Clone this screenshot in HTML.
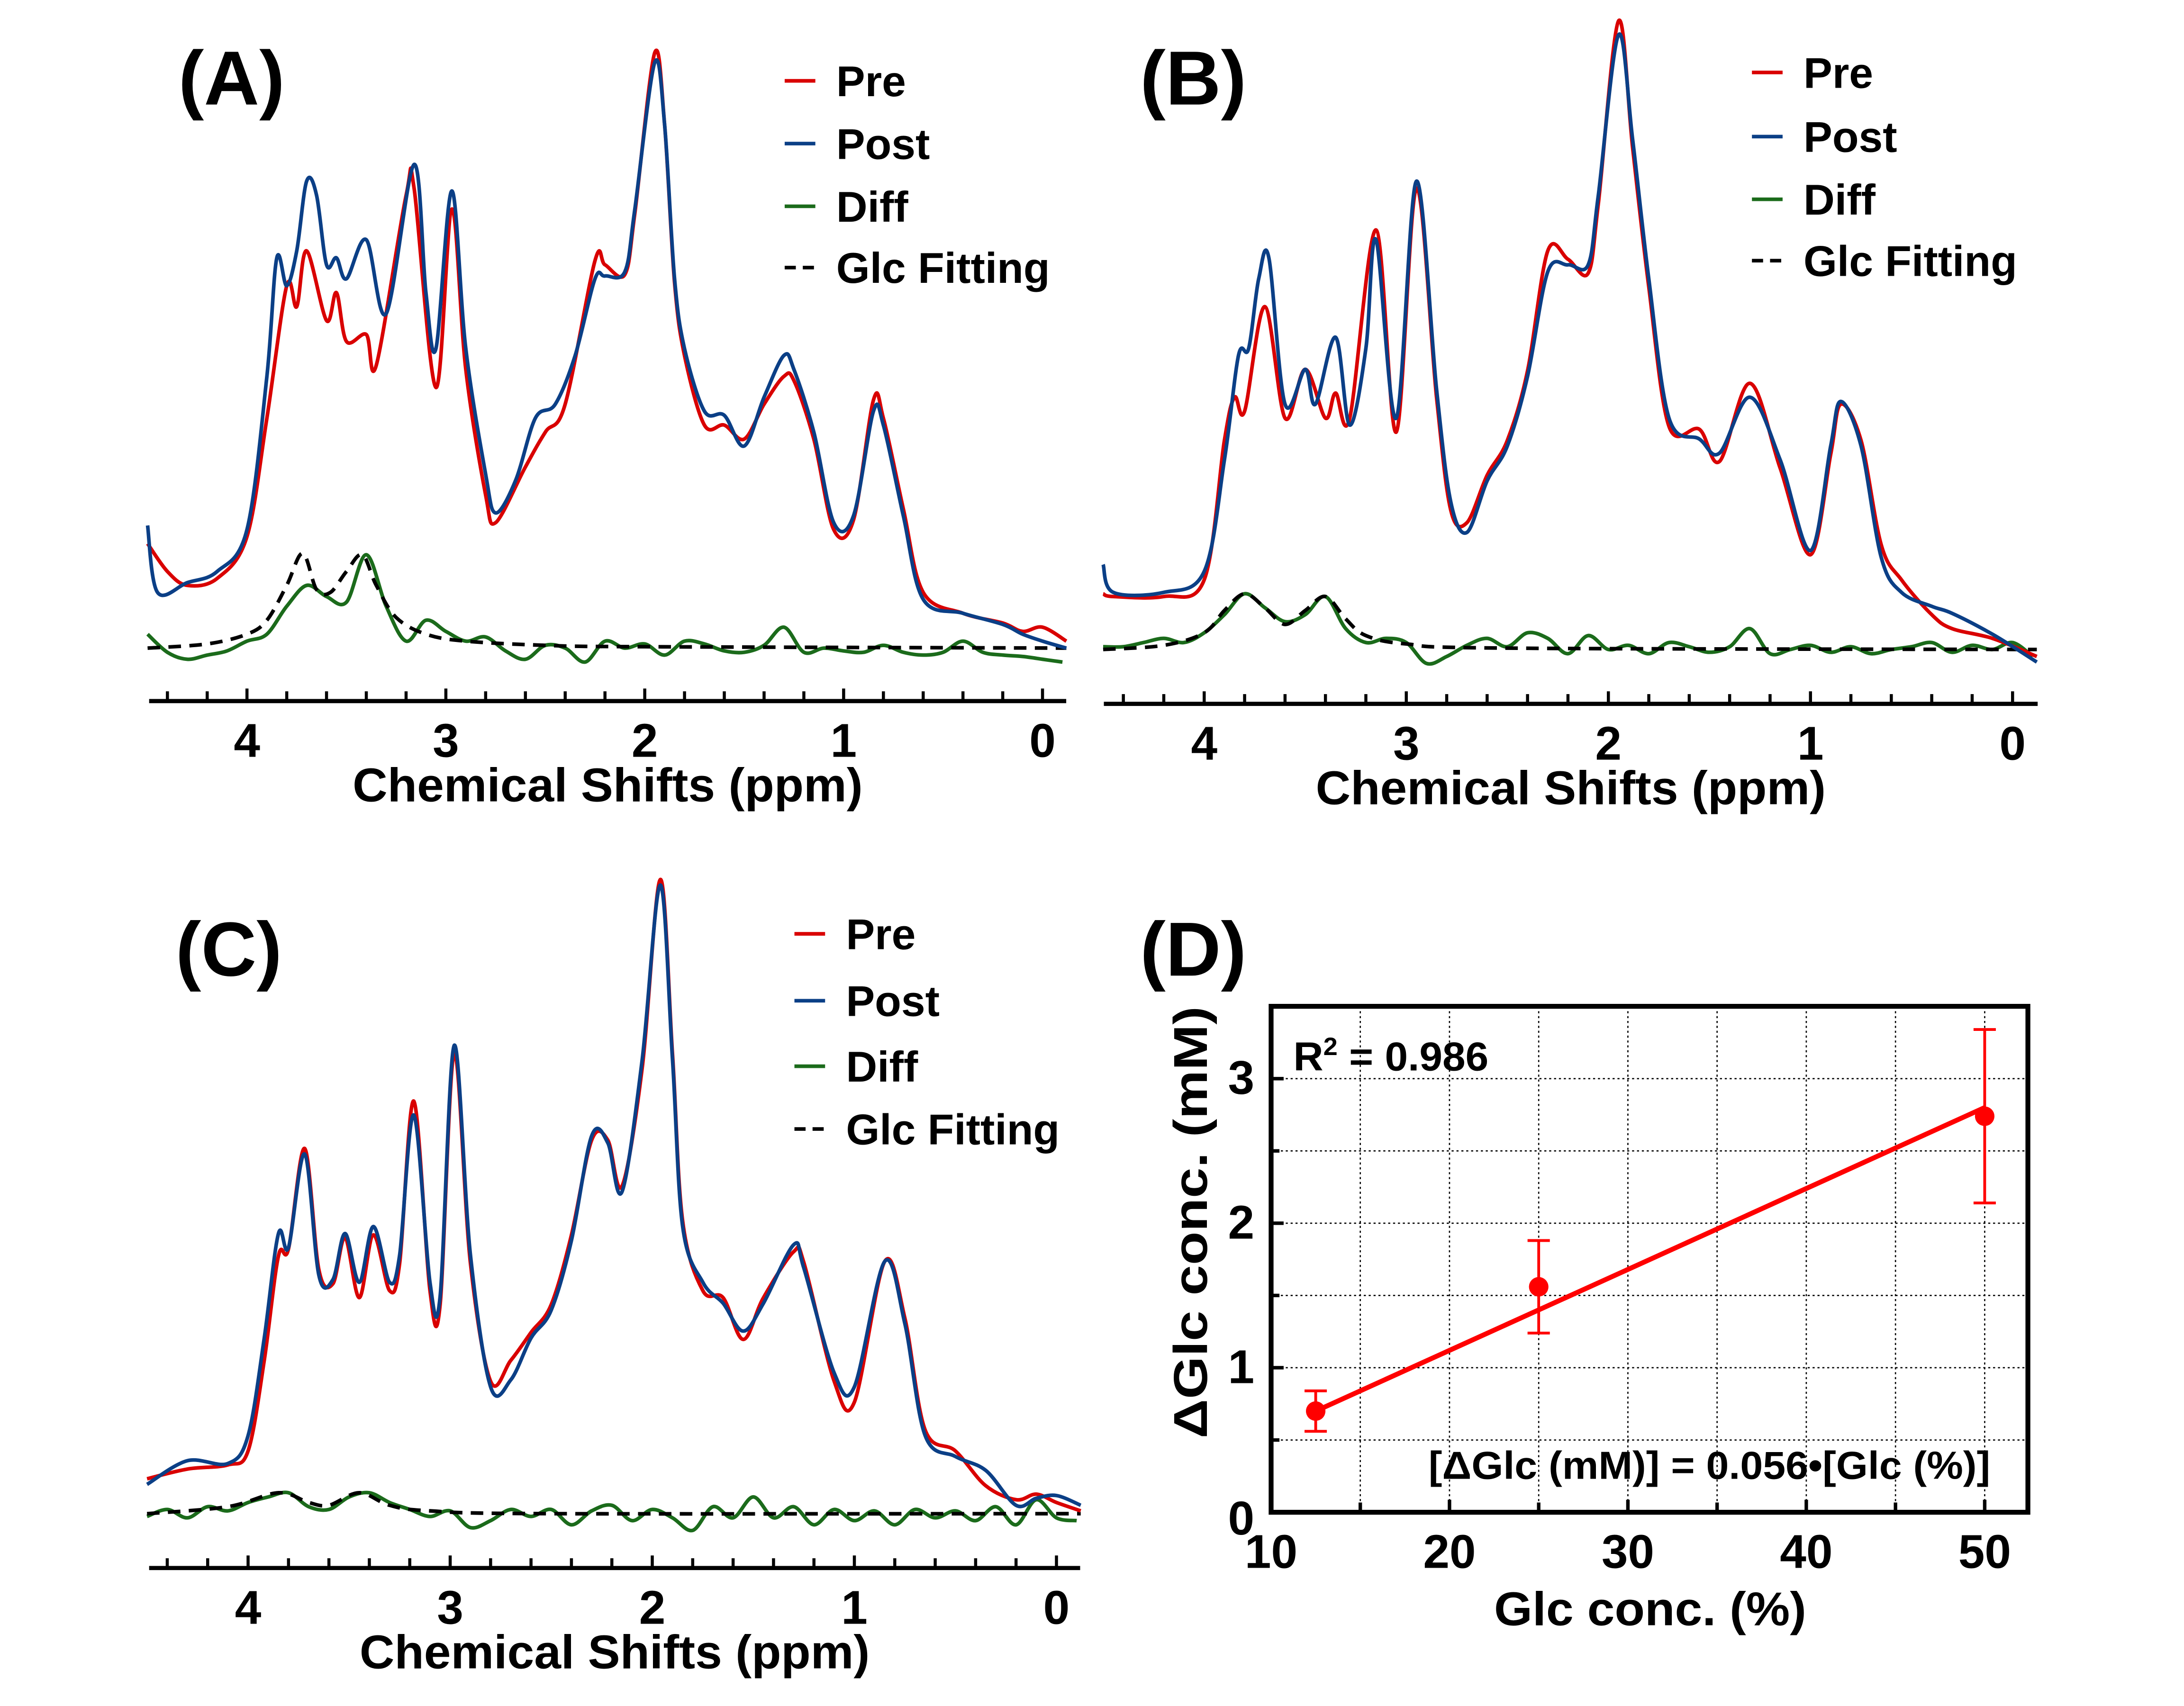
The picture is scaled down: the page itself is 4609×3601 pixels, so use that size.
<!DOCTYPE html>
<html><head><meta charset="utf-8"><style>
html,body{margin:0;padding:0;background:#fff}
svg{display:block}
text{font-family:"Liberation Sans",sans-serif;font-weight:bold;fill:#000}
</style></head><body>
<svg id="fig" xmlns="http://www.w3.org/2000/svg" width="4609" height="3601" viewBox="0 0 1567 1224" preserveAspectRatio="none">
<rect width="1567" height="1224" fill="#fff"/>
</svg>
<script>
// ---------- Data (intensity above baseline vs ppm) ----------
const postA=[[4.5,88],[4.45,40],[4.3,47],[4.15,55],[4.0,85],[3.9,195],[3.85,280],[3.8,260],[3.75,285],[3.7,335],[3.65,325],[3.6,275],[3.55,280],[3.5,265],[3.4,293],[3.3,240],[3.16,347],[3.1,255],[3.05,215],[2.97,328],[2.9,215],[2.8,125],[2.75,97],[2.65,120],[2.55,165],[2.45,175],[2.35,210],[2.25,265],[2.2,267],[2.1,270],[2.05,315],[1.95,420],[1.9,375],[1.85,265],[1.8,215],[1.7,170],[1.6,167],[1.5,145],[1.4,180],[1.3,210],[1.25,200],[1.15,155],[1.05,90],[0.95,95],[0.85,170],[0.8,160],[0.7,95],[0.6,35],[0.4,25],[0.2,17],[0.1,10],[0,5],[-0.12,0]];
const preA=[[4.5,75],[4.4,55],[4.3,45],[4.15,50],[4.0,80],[3.9,165],[3.8,260],[3.75,245],[3.7,285],[3.6,235],[3.55,255],[3.5,220],[3.4,225],[3.35,203],[3.2,325],[3.16,330],[3.05,187],[2.97,315],[2.9,200],[2.8,110],[2.75,90],[2.6,130],[2.5,155],[2.4,175],[2.25,278],[2.2,275],[2.1,268],[2.05,312],[1.95,427],[1.9,375],[1.85,262],[1.8,210],[1.7,160],[1.6,160],[1.5,150],[1.4,175],[1.3,195],[1.25,192],[1.15,150],[1.05,85],[0.95,92],[0.85,178],[0.8,165],[0.7,100],[0.6,40],[0.4,25],[0.2,18],[0.1,12],[0,15],[-0.12,5]];
const postB=[[4.5,61],[4.45,41],[4.2,41],[4.0,56],[3.9,136],[3.83,211],[3.78,216],[3.73,266],[3.68,281],[3.6,176],[3.5,201],[3.45,176],[3.35,224],[3.28,161],[3.2,216],[3.15,294],[3.05,166],[2.95,336],[2.85,186],[2.78,106],[2.7,84],[2.6,121],[2.5,146],[2.4,196],[2.3,271],[2.2,276],[2.1,276],[2.05,326],[1.95,441],[1.88,366],[1.8,266],[1.7,166],[1.55,151],[1.45,141],[1.3,181],[1.15,136],[1.0,71],[0.9,146],[0.85,178],[0.75,146],[0.65,66],[0.55,41],[0.4,31],[0.3,26],[0.1,11],[-0.12,-9]];
const preB=[[4.5,40],[4.45,38],[4.2,38],[4.0,50],[3.9,150],[3.85,181],[3.8,171],[3.7,246],[3.6,166],[3.5,201],[3.4,166],[3.35,184],[3.28,166],[3.15,301],[3.05,156],[2.95,331],[2.85,180],[2.78,100],[2.7,91],[2.6,125],[2.5,150],[2.4,200],[2.3,286],[2.2,280],[2.1,270],[2.05,320],[1.95,451],[1.88,360],[1.8,260],[1.7,160],[1.55,158],[1.45,135],[1.3,191],[1.15,130],[1.0,68],[0.9,140],[0.85,176],[0.75,150],[0.65,75],[0.55,50],[0.4,25],[0.3,15],[0.1,8],[-0.12,-5]];
const postC=[[4.5,21],[4.3,38],[4.1,36],[4.0,56],[3.92,126],[3.85,201],[3.8,191],[3.72,258],[3.65,171],[3.58,168],[3.52,201],[3.45,166],[3.38,206],[3.3,166],[3.25,186],[3.18,286],[3.1,166],[3.05,156],[2.98,336],[2.9,186],[2.8,91],[2.7,96],[2.6,126],[2.5,146],[2.4,196],[2.3,271],[2.22,266],[2.15,231],[2.05,326],[1.96,451],[1.9,326],[1.85,206],[1.75,166],[1.65,151],[1.55,131],[1.45,151],[1.3,193],[1.25,176],[1.1,101],[1.0,91],[0.85,181],[0.75,136],[0.65,56],[0.5,41],[0.35,31],[0.2,6],[0.1,11],[0,13],[-0.12,6]];
const preC=[[4.5,25],[4.3,32],[4.1,35],[4.0,45],[3.92,110],[3.85,185],[3.8,190],[3.72,262],[3.65,175],[3.58,165],[3.52,198],[3.45,155],[3.38,200],[3.3,160],[3.25,180],[3.18,296],[3.1,160],[3.05,150],[2.98,330],[2.9,180],[2.8,95],[2.7,110],[2.6,130],[2.5,150],[2.4,200],[2.3,268],[2.22,268],[2.15,235],[2.05,320],[1.96,455],[1.9,330],[1.85,210],[1.75,160],[1.65,155],[1.55,125],[1.45,155],[1.3,188],[1.25,180],[1.1,95],[1.0,80],[0.85,181],[0.75,140],[0.65,60],[0.5,45],[0.35,20],[0.2,10],[0.1,14],[0,8],[-0.12,2]];
const diffPpm=[4.5,4.4,4.3,4.2,4.1,4.0,3.9,3.8,3.7,3.6,3.5,3.4,3.3,3.2,3.1,3.0,2.9,2.8,2.7,2.6,2.5,2.4,2.3,2.2,2.1,2.0,1.9,1.8,1.7,1.6,1.5,1.4,1.3,1.2,1.1,1.0,0.9,0.8,0.7,0.6,0.5,0.4,0.3,0.2,0.1,0.0,-0.1];
const diffA=[10,-3,-8,-5,-2,5,10,30,45,37,33,67,30,5,20,12,5,8,-2,-8,2,0,-10,5,0,3,-5,5,3,-2,-3,2,15,-3,0,-2,-3,2,-3,-5,-3,5,-3,-5,-6,-8,-10];
const diffB=[2,2,5,8,5,12,25,40,30,20,25,38,15,5,8,5,-10,-5,3,8,2,12,8,-3,10,0,3,-3,5,2,-2,2,15,-3,0,3,-2,2,-3,0,2,5,-2,3,0,5,-5];
const diffC=[-2,3,-3,5,2,8,12,15,5,3,12,15,8,3,-2,2,-10,-5,3,-2,3,-8,2,6,-5,3,-3,-12,5,-3,12,-3,5,-8,3,-5,2,-8,3,-3,2,-5,5,-8,10,-3,-5];
const fitA=[[4.5,0],[4.2,3],[4.0,10],[3.9,20],[3.8,45],[3.72,68],[3.65,42],[3.58,40],[3.5,55],[3.42,67],[3.35,45],[3.25,22],[3.1,10],[2.9,5],[2.5,2],[2,1],[-0.12,0]];
const fitB=[[4.5,0],[4.2,3],[4.0,12],[3.9,28],[3.8,40],[3.7,30],[3.6,18],[3.5,28],[3.4,38],[3.3,22],[3.2,10],[3.0,4],[2.5,1],[-0.12,0]];
const fitC=[[4.5,0],[4.1,5],[3.85,15],[3.7,8],[3.6,6],[3.45,15],[3.3,6],[3.1,2],[2.5,0],[-0.12,0]];
const xTickLabels=["4","3","2","1","0"];
const xTickValues=[4,3,2,1,0];
// Panel D
const glcPct=[12.5,25,50];
const dGlc=[0.70,1.56,2.74];
const dGlcErr=[0.14,0.32,0.60];
const fitSlope=0.056;
const dXTicks=[10,20,30,40,50];
const dYTicks=[0,1,2,3];

const NS="http://www.w3.org/2000/svg";
const svg=document.getElementById('fig');
function mk(tag,attrs,parent){const e=document.createElementNS(NS,tag);for(const k in attrs)e.setAttribute(k,attrs[k]);(parent||svg).appendChild(e);return e;}
function txt(s,attrs,parent){const e=mk('text',attrs,parent);e.textContent=s;return e;}
function smooth(pts){let d='M'+pts[0][0].toFixed(1)+','+pts[0][1].toFixed(1);
 for(let i=0;i<pts.length-1;i++){const p0=pts[Math.max(0,i-1)],p1=pts[i],p2=pts[i+1],p3=pts[Math.min(pts.length-1,i+2)];
  const c1=[p1[0]+(p2[0]-p0[0])/6,p1[1]+(p2[1]-p0[1])/6],c2=[p2[0]-(p3[0]-p1[0])/6,p2[1]-(p3[1]-p1[1])/6];
  d+='C'+c1[0].toFixed(1)+','+c1[1].toFixed(1)+' '+c2[0].toFixed(1)+','+c2[1].toFixed(1)+' '+p2[0].toFixed(1)+','+p2[1].toFixed(1);}
 return d;}

function spectrum(cfg){
 const g=mk('g',{});
 
 
 const xs=p=>cfg.x0-cfg.k*p, ys=v=>cfg.base-v;
 const line=(data,color,name,dash)=>{const pts=data.map(d=>[xs(d[0]),ys(d[1])]);
  const p=mk('path',{d:smooth(pts),fill:'none',stroke:color,'stroke-width':2.6,'stroke-linejoin':'round'},g);
  if(dash)p.setAttribute('stroke-dasharray','9,6');
  
  };
 line(cfg.diff.map((v,i)=>[diffPpm[i],v]),'#1b6b1b','diff-line-'+cfg.id);
 line(cfg.fit,'#000','glc-fit-line-'+cfg.id,true);
 line(cfg.pre,'#d90000','pre-line-'+cfg.id);
 line(cfg.post,'#0b3f86','post-line-'+cfg.id);
 const ax=mk('line',{x1:cfg.xl,x2:cfg.xr,y1:cfg.ay,y2:cfg.ay,stroke:'#000','stroke-width':3},g);
 
 
 for(let m=0;m<=4.41;m+=0.2){const x=xs(m);const maj=Math.abs(m-Math.round(m))<0.01;
  mk('line',{x1:x,x2:x,y1:cfg.ay,y2:cfg.ay-(maj?9:7),stroke:'#000','stroke-width':2.2},g);}
 xTickValues.forEach((v,i)=>{const t=txt(xTickLabels[i],{x:xs(v),y:cfg.ay+40,'font-size':34,'text-anchor':'middle'},g);
  
  });
 const at=txt('Chemical Shifts (ppm)',{x:cfg.tx,y:cfg.ay+72,'font-size':34,'text-anchor':'middle',textLength:366,lengthAdjust:'spacingAndGlyphs'},g);
 
 
 const pl=txt('('+cfg.id.toUpperCase()+')',{x:cfg.lx,y:cfg.ly,'font-size':55},g);
 
 
 const names=['Pre','Post','Diff','Glc Fitting'],cols=['#d90000','#0b3f86','#1b6b1b','#000'];
 names.forEach((n,i)=>{const y=cfg.legY[i];
  const le=mk('g',{},g);
  
  
  const l=mk('line',{x1:cfg.legX,x2:cfg.legX+22,y1:y,y2:y,stroke:cols[i],'stroke-width':2.6},le);
  if(i==3)l.setAttribute('stroke-dasharray','8,5');
  txt(n,{x:cfg.legX+37,y:y+11,'font-size':31},le);});
}
spectrum({id:'a',x0:748,k:142.7,base:465,ay:503,xl:107,xr:765,tx:436,lx:128,ly:75,legX:563,legY:[58,103,148,192],post:postA,pre:preA,diff:diffA,fit:fitA});
spectrum({id:'b',x0:1444,k:145,base:466,ay:505,xl:792,xr:1462,tx:1127,lx:818,ly:75,legX:1257,legY:[52,98,143,187],post:postB,pre:preB,diff:diffB,fit:fitB});
spectrum({id:'c',x0:758,k:145,base:1086,ay:1125,xl:107,xr:775,tx:441,lx:126,ly:700,legX:570,legY:[670,718,765,810],post:postC,pre:preC,diff:diffC,fit:fitC});

// ---------- Panel D ----------
(function(){
 const g=mk('g',{});
 
 
 const L=912,R=1455,T=722,B=1085;
 const xs=v=>L+(v-10)*12.8, ys=v=>B-v*103.7;
 for(let v=15;v<=50;v+=5){const x=xs(v);mk('line',{x1:x,x2:x,y1:T,y2:B,stroke:'#000','stroke-width':0.9,'stroke-dasharray':'1.5,2'},g);}
 for(let v=0.5;v<=3.01;v+=0.5){const y=ys(v);mk('line',{x1:L,x2:R,y1:y,y2:y,stroke:'#000','stroke-width':0.9,'stroke-dasharray':'1.5,2'},g);}
 const fr=mk('rect',{x:L,y:T,width:R-L,height:B-T,fill:'none',stroke:'#000','stroke-width':3.5},g);
 
 
 for(let v=15;v<=50;v+=5){const x=xs(v);mk('line',{x1:x,x2:x,y1:B,y2:B-(v%10==0?9:7),stroke:'#000','stroke-width':2.5},g);}
 for(let v=0.5;v<=3.01;v+=0.5){const y=ys(v);mk('line',{x1:L,x2:L+(v%1==0?9:6),y1:y,y2:y,stroke:'#000','stroke-width':2.5},g);}
 dXTicks.forEach(v=>{const t=txt(String(v),{x:xs(v),y:B+40,'font-size':34,'text-anchor':'middle'},g);
  
  });
 dYTicks.forEach(v=>{const t=txt(String(v),{x:L-12,y:ys(v)+(v==0?16:11),'font-size':34,'text-anchor':'end'},g);
  
  });
 const x0=glcPct[0],x1=glcPct[glcPct.length-1];
 const fl=mk('line',{x1:xs(x0),y1:ys(fitSlope*x0),x2:xs(x1),y2:ys(fitSlope*x1),stroke:'#f00','stroke-width':3.5},g);
 
 
 glcPct.forEach((v,i)=>{const x=xs(v),y=ys(dGlc[i]),e=dGlcErr[i];
  const pg=mk('g',{},g);
  
  
  mk('line',{x1:x,x2:x,y1:ys(dGlc[i]+e),y2:ys(dGlc[i]-e),stroke:'#f00','stroke-width':2},pg);
  mk('line',{x1:x-8,x2:x+8,y1:ys(dGlc[i]+e),y2:ys(dGlc[i]+e),stroke:'#f00','stroke-width':2},pg);
  mk('line',{x1:x-8,x2:x+8,y1:ys(dGlc[i]-e),y2:ys(dGlc[i]-e),stroke:'#f00','stroke-width':2},pg);
  mk('circle',{cx:x,cy:y,r:7,fill:'#f00'},pg);});
 const r2=txt('',{x:928,y:768,'font-size':29,textLength:140,lengthAdjust:'spacingAndGlyphs'},g);
 r2.innerHTML='R<tspan dy="-11" font-size="18">2</tspan><tspan dy="11"> = 0.986</tspan>';
 
 
 const eq=txt('[ΔGlc (mM)] = 0.056•[Glc (%)]',{x:1025,y:1061,'font-size':28,textLength:403,lengthAdjust:'spacingAndGlyphs'},g);
 
 
 const xt=txt('Glc conc. (%)',{x:1184,y:1166,'font-size':34,'text-anchor':'middle',textLength:224,lengthAdjust:'spacingAndGlyphs'},g);
 
 
 const yt=txt('ΔGlc conc. (mM)',{x:0,y:0,'font-size':34,'text-anchor':'middle',transform:'translate(866,877) rotate(-90)',textLength:310,lengthAdjust:'spacingAndGlyphs'},g);
 
 
 const pl=txt('(D)',{x:818,y:700,'font-size':55},g);
 
 
})();
</script>
</body></html>
